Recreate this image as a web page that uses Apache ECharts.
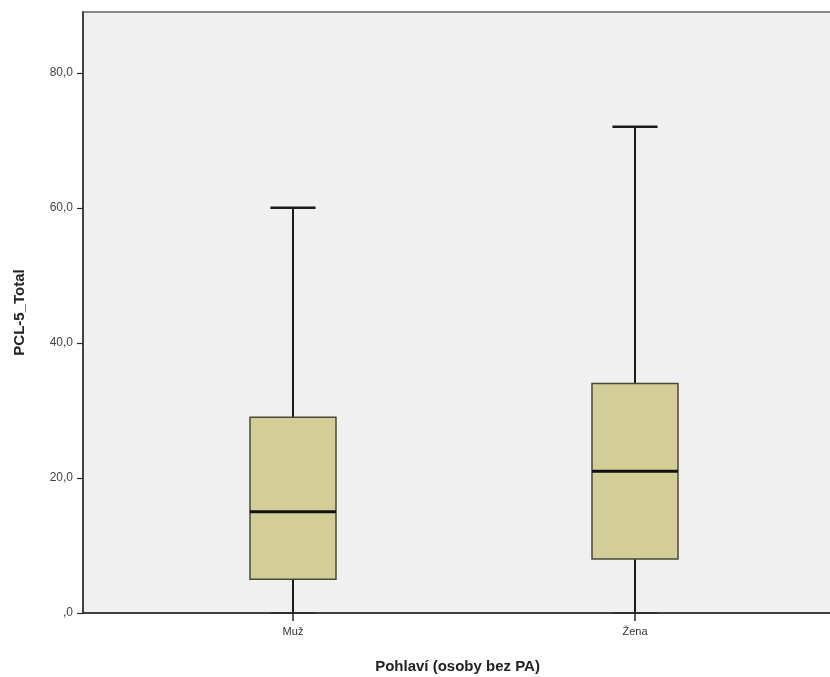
<!DOCTYPE html>
<html>
<head>
<meta charset="utf-8">
<script src="https://cdn.jsdelivr.net/npm/echarts@6/dist/echarts.min.js"></script>
<style>html,body{margin:0;padding:0;background:#fff}#c{width:830px;height:677px}</style>
</head>
<body>
<div id="c"></div>
<script>
const categories = ['Muž', 'Žena'];
const mins = [0, 0];
const q1s = [5, 8];
const medians = [15, 21];
const q3s = [29, 34];
const maxs = [60, 72];
const yTicks = [0, 20, 40, 60, 80];

const data = categories.map((c, i) => [i, mins[i], q1s[i], medians[i], q3s[i], maxs[i]]);

const chart = echarts.init(document.getElementById('c'));
const FONT = 'Liberation Sans, Arial, sans-serif';

chart.setOption({
  animation: false,
  grid: {
    left: 83, top: 12, right: -2, bottom: 64,
    outerBoundsMode: 'none', containLabel: false,
    show: true, backgroundColor: '#f0f0f0', borderColor: '#8a8a8a', borderWidth: 2
  },
  xAxis: {
    type: 'value',
    min: -0.614, max: 1.576,
    splitLine: { show: false },
    axisLine: { show: true, onZero: false, lineStyle: { color: '#2a2a2a', width: 1.5 } },
    axisTick: { show: true, customValues: [0, 1], length: 8, lineStyle: { color: '#2a2a2a', width: 1.5 } },
    axisLabel: {
      customValues: [0, 1],
      formatter: v => categories[Math.round(v)] || '',
      color: '#333', fontSize: 11, fontFamily: FONT, margin: 13
    },
    name: 'Pohlaví (osoby bez PA)',
    nameLocation: 'middle',
    nameGap: 46,
    nameTextStyle: { color: '#222', fontSize: 15, fontWeight: 'bold', fontFamily: FONT }
  },
  yAxis: {
    type: 'value',
    min: 0, max: 89, interval: 20,
    splitLine: { show: false },
    axisLine: { show: true, onZero: false, lineStyle: { color: '#2a2a2a', width: 1.5 } },
    axisTick: { show: true, customValues: yTicks, length: 6, lineStyle: { color: '#2a2a2a', width: 1.2 } },
    axisLabel: {
      customValues: yTicks,
      formatter: v => v === 0 ? ',0' : v.toFixed(1).replace('.', ','),
      color: '#444', fontSize: 12, fontFamily: FONT, margin: 10
    },
    name: 'PCL-5_Total',
    nameLocation: 'middle',
    nameGap: 56,
    nameTextStyle: { color: '#222', fontSize: 15, fontWeight: 'bold', fontFamily: FONT }
  },
  series: [{
    type: 'custom',
    data: data,
    encode: { x: 0, y: [1, 2, 3, 4, 5] },
    clip: false,
    renderItem: function (params, api) {
      const x = api.value(0);
      const pMin = api.coord([x, api.value(1)]);
      const pQ1 = api.coord([x, api.value(2)]);
      const pMed = api.coord([x, api.value(3)]);
      const pQ3 = api.coord([x, api.value(4)]);
      const pMax = api.coord([x, api.value(5)]);
      const bw = api.size([0.2515, 0])[0];
      const cw = api.size([0.132, 0])[0];
      const cx = pMed[0];
      const lineStyle = { stroke: '#1a1a1a', lineWidth: 2 };
      return {
        type: 'group',
        children: [
          { type: 'line', shape: { x1: cx, y1: pQ3[1], x2: cx, y2: pMax[1] }, style: lineStyle },
          { type: 'line', shape: { x1: cx, y1: pQ1[1], x2: cx, y2: pMin[1] }, style: lineStyle },
          { type: 'line', shape: { x1: cx - cw / 2, y1: pMax[1], x2: cx + cw / 2, y2: pMax[1] }, style: { stroke: '#1a1a1a', lineWidth: 2.5 } },
          { type: 'line', shape: { x1: cx - cw / 2, y1: pMin[1], x2: cx + cw / 2, y2: pMin[1] }, style: { stroke: '#2a2a2a', lineWidth: 1.5 } },
          { type: 'rect', shape: { x: cx - bw / 2, y: pQ3[1], width: bw, height: pQ1[1] - pQ3[1] },
            style: { fill: '#d3ce97', stroke: '#4a4936', lineWidth: 1.5 } },
          { type: 'line', shape: { x1: cx - bw / 2, y1: pMed[1], x2: cx + bw / 2, y2: pMed[1] }, style: { stroke: '#111', lineWidth: 3 } }
        ]
      };
    }
  }]
});
</script>
</body>
</html>
